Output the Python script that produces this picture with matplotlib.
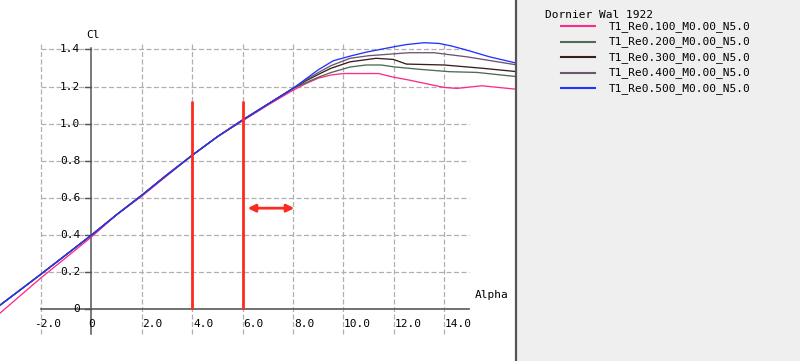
import matplotlib
matplotlib.use("Agg")
import matplotlib.pyplot as plt
from matplotlib.lines import Line2D
from matplotlib.transforms import offset_copy

plt.rcParams['font.family'] = ['DejaVu Sans Mono']
plt.rcParams['font.size'] = 8

title = "Dornier Wal 1922"
labels = ["T1_Re0.100_M0.00_N5.0", "T1_Re0.200_M0.00_N5.0", "T1_Re0.300_M0.00_N5.0",
          "T1_Re0.400_M0.00_N5.0", "T1_Re0.500_M0.00_N5.0"]
colors = ['#ff2a8a', '#4d6b55', '#3b1e1e', '#6e5470', '#2233ff']

# shared linear part (alpha, Cl)
lin_a = [-3.8, -2.0, 0.0, 1.0, 2.0, 3.0, 4.0, 5.0, 6.0, 7.0, 8.0]
lin_cl = [0.005, 0.19, 0.40, 0.51, 0.615, 0.725, 0.83, 0.93, 1.02, 1.105, 1.19]

pink_a = [-3.8, -2.0, 0.0, 1.0, 2.0, 3.0, 4.0, 5.0, 6.0, 7.0, 8.0, 8.5, 9.0, 9.5, 10.0,
          11.4, 12.0, 12.6, 14.0, 14.5, 15.5, 16.9]
pink_cl = [-0.04, 0.17, 0.39, 0.51, 0.61, 0.72, 0.83, 0.93, 1.015, 1.10, 1.18, 1.215, 1.245,
           1.262, 1.27, 1.27, 1.25, 1.235, 1.195, 1.19, 1.204, 1.185]

green_a = [8.5, 9.0, 9.5, 10.26, 10.9, 11.5, 12.0, 13.0, 14.2, 15.3, 16.9]
green_cl = [1.22, 1.25, 1.275, 1.305, 1.316, 1.316, 1.306, 1.293, 1.28, 1.276, 1.253]

brown_a = [8.5, 9.0, 9.5, 10.26, 11.3, 11.98, 12.5, 14.0, 15.55, 16.9]
brown_cl = [1.23, 1.265, 1.298, 1.333, 1.352, 1.346, 1.321, 1.316, 1.298, 1.28]

purple_a = [8.5, 9.0, 9.5, 10.26, 11.0, 12.0, 12.6, 13.6, 14.9, 16.9]
purple_cl = [1.235, 1.275, 1.312, 1.352, 1.366, 1.376, 1.382, 1.382, 1.36, 1.316]

blue_a = [8.5, 9.0, 9.6, 10.3, 10.9, 12.0, 12.5, 13.2, 13.8, 14.3, 14.9, 15.8, 16.9]
blue_cl = [1.24, 1.29, 1.339, 1.365, 1.385, 1.414, 1.426, 1.436, 1.432, 1.418, 1.396, 1.36, 1.325]

xticks = [-2.0, 0.0, 2.0, 4.0, 6.0, 8.0, 10.0, 12.0, 14.0]
yticks = [0.0, 0.2, 0.4, 0.6, 0.8, 1.0, 1.2, 1.4]

marker_alphas = [4.0, 6.0]
marker_top = 1.12
arrow_span = [6.2, 8.05]
arrow_cl = 0.545

fig = plt.figure(figsize=(8.0, 3.61), dpi=100)
fig.patch.set_facecolor('white')

ax = fig.add_axes([0, 0, 515 / 800, 1])
ax.set_xlim(-3.63, 16.81)
ax.set_ylim(-0.278, 1.666)
ax.axis('off')

grid_kw = dict(color='#b0b0b0', lw=0.9, linestyles=(0, (4, 2)), zorder=1)
ax.hlines(yticks[1:], -2.0, 15.0, **grid_kw)
ax.vlines([t for t in xticks if t != 0], -0.13, 1.432, **grid_kw)

# axes lines
ax.plot([-2.0, 15.0], [0, 0], color='#666666', lw=1.3, zorder=2)
ax.plot([0, 0], [-0.13, 1.405], color='#555555', lw=1.1, zorder=2)
for y in yticks:
    ax.plot([-0.25, 0], [y, y], color='#555555', lw=1.0, zorder=2)

# series
series = [(pink_a, pink_cl),
          (lin_a + green_a, lin_cl + green_cl),
          (lin_a + brown_a, lin_cl + brown_cl),
          (lin_a + purple_a, lin_cl + purple_cl),
          (lin_a + blue_a, lin_cl + blue_cl)]
for (a, cl), c in zip(series, colors):
    ax.plot(a, cl, color=c, lw=0.95, zorder=3)

# red markers
red = '#ff2a1f'
ax.vlines(marker_alphas, 0, marker_top, color=red, lw=2.0, zorder=4)
ax.annotate('', xy=(arrow_span[1], arrow_cl), xytext=(arrow_span[0], arrow_cl),
            arrowprops=dict(arrowstyle='<|-|>', color=red, lw=2.0, mutation_scale=11,
                            shrinkA=0, shrinkB=0), zorder=4)

# tick labels
for y in yticks:
    ax.text(-0.45, y, '0' if y == 0 else f'{y:.1f}', ha='right', va='center', color='black')
for x in xticks:
    if x == 0:
        ax.text(x, -0.077, '0', ha='center', va='center')
    elif x < 0:
        tr = offset_copy(ax.transData, fig=fig, x=-6.7, y=0, units='dots')
        ax.text(x, -0.077, f'{x:.1f}', ha='left', va='center', transform=tr)
    else:
        ax.text(x + 0.03, -0.077, f'{x:.1f}', ha='left', va='center')

ax.text(-0.2, 1.478, 'Cl', ha='left', va='center')
ax.text(15.2, 0.078, 'Alpha', ha='left', va='center')

# right panel with legend
pan = fig.add_axes([516 / 800, 0, 284 / 800, 1])
pan.set_xlim(0, 284)
pan.set_ylim(361, 0)
pan.set_facecolor('#efefef')
for s in pan.spines.values():
    s.set_visible(False)
pan.spines['left'].set_visible(True)
pan.spines['left'].set_color('#555555')
pan.spines['left'].set_linewidth(1.6)
pan.set_xticks([])
pan.set_yticks([])

pan.text(29, 14.5, title, ha='left', va='center')
for i, (lab, c) in enumerate(zip(labels, colors)):
    y = 26.3 + i * 15.5
    pan.add_line(Line2D([45, 79], [y, y], color=c, lw=1.5))
    pan.text(93, y, lab, ha='left', va='center')

fig.savefig('out.png', dpi=100, facecolor=fig.get_facecolor())
